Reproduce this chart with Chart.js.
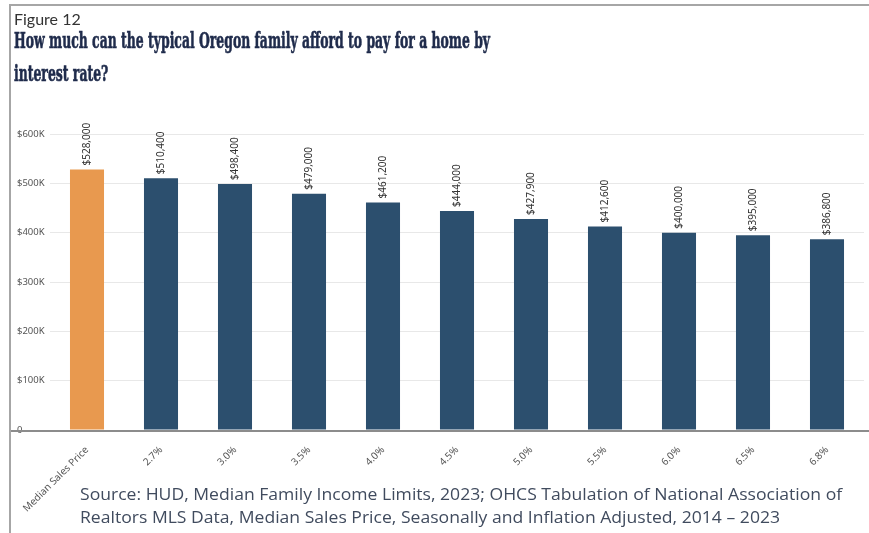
<!DOCTYPE html>
<html>
<head>
<meta charset="utf-8">
<script src="https://cdn.jsdelivr.net/npm/chart.js@4"></script>
<style>
  html, body { margin: 0; padding: 0; background: #fff; }
  #page { position: relative; width: 869px; height: 533px; overflow: hidden; background: #fff; }
  #frameTop { position: absolute; left: 9px; top: 4px; width: 860px; height: 2px; background: #a6a6a6; }
  #frameLeft { position: absolute; left: 9px; top: 4px; width: 2px; height: 529px; background: #a6a6a6; }
  #fig { position: absolute; left: 14px; top: 9px; font-family: Lato, sans-serif; font-size: 16px; color: #333; }
  #title { position: absolute; left: 14px; top: 23px; white-space: nowrap; transform-origin: 0 0;
           font-family: "DejaVu Serif", serif; font-weight: bold; font-size: 23px; line-height: 33px; color: #1f2b4b;
           -webkit-text-stroke: 0.7px #1f2b4b; }
  #source { position: absolute; left: 80px; top: 483px; white-space: nowrap; transform-origin: 0 0;
            font-family: "Open Sans", sans-serif; font-size: 15.5px; line-height: 23px; color: #404b5e; }
  canvas { position: absolute; left: 0; top: 0; }
</style>
</head>
<body>
<div id="page">
  <canvas id="chart" width="869" height="533"></canvas>
  <div id="frameTop"></div>
  <div id="frameLeft"></div>
  <div id="fig">Figure 12</div>
  <div id="title">How much can the typical Oregon family afford to pay for a home by<br>interest rate?</div>
  <div id="source">Source: HUD, Median Family Income Limits, 2023; OHCS Tabulation of National Association of<br>Realtors MLS Data, Median Sales Price, Seasonally and Inflation Adjusted, 2014 – 2023</div>
</div>
<script>
// 分类和数值
const categories = ['Median Sales Price', '2.7%', '3.0%', '3.5%', '4.0%', '4.5%', '5.0%', '5.5%', '6.0%', '6.5%', '6.8%'];
const prices = [528000, 510400, 498400, 479000, 461200, 444000, 427900, 412600, 400000, 395000, 386800];
const yTicks = [0, 100000, 200000, 300000, 400000, 500000, 600000];

const barColors = categories.map((c, i) => i === 0 ? '#e8994f' : '#2c4f6e');

// 文字横向压缩到参考宽度
function fitWidth(id, target) {
    const el = document.getElementById(id);
    el.style.transform = 'scaleX(' + (target / el.scrollWidth) + ')';
}
fitWidth('title', 476);
fitWidth('source', 762);

// 柱顶竖排标签 + 底部基线
const barLabels = {
    id: 'barLabels',
    afterDatasetsDraw(chart) {
        const ctx = chart.ctx;
        const meta = chart.getDatasetMeta(0);
        ctx.save();
        ctx.font = '10px "Noto Sans", sans-serif';
        ctx.fillStyle = '#333';
        ctx.textAlign = 'left';
        ctx.textBaseline = 'middle';
        meta.data.forEach((bar, i) => {
            const v = prices[i];
            ctx.save();
            ctx.translate(bar.x, bar.y - 4);
            ctx.rotate(-Math.PI / 2);
            ctx.fillText('$' + v.toLocaleString('en-US'), 0, 0);
            ctx.restore();
        });
        // 基线
        const y = chart.scales.y.getPixelForValue(0);
        ctx.strokeStyle = '#8c8c8c';
        ctx.lineWidth = 2;
        ctx.beginPath();
        ctx.moveTo(10, y + 1);
        ctx.lineTo(chart.width, y + 1);
        ctx.stroke();
        ctx.restore();
    }
};

new Chart(document.getElementById('chart').getContext('2d'), {
    type: 'bar',
    data: {
        labels: categories,
        datasets: [{
            data: prices,
            backgroundColor: barColors,
            categoryPercentage: 1,
            barPercentage: 0.46
        }]
    },
    options: {
        responsive: false,
        animation: false,
        layout: { padding: { left: 17, top: 134, right: 5, bottom: 18 } },
        plugins: { legend: { display: false }, tooltip: { enabled: false } },
        scales: {
            x: {
                grid: { display: false },
                border: { display: false },
                afterFit(scale) { scale.height = 85; },
                ticks: {
                    minRotation: 45, maxRotation: 45, padding: 6,
                    color: '#555',
                    font: { family: '"Noto Sans", sans-serif', size: 10 }
                }
            },
            y: {
                min: 0, max: 600000,
                afterFit(scale) { scale.width = 33; },
                afterBuildTicks(scale) { scale.ticks = yTicks.map(v => ({ value: v })); },
                grid: { color: '#e8e8e8', drawTicks: false },
                border: { display: false },
                ticks: {
                    crossAlign: 'far', padding: 2,
                    color: '#555',
                    font: { family: '"Noto Sans", sans-serif', size: 9.5 },
                    callback: v => v === 0 ? '0' : '$' + (v / 1000) + 'K'
                }
            }
        }
    },
    plugins: [barLabels]
});
</script>
</body>
</html>
